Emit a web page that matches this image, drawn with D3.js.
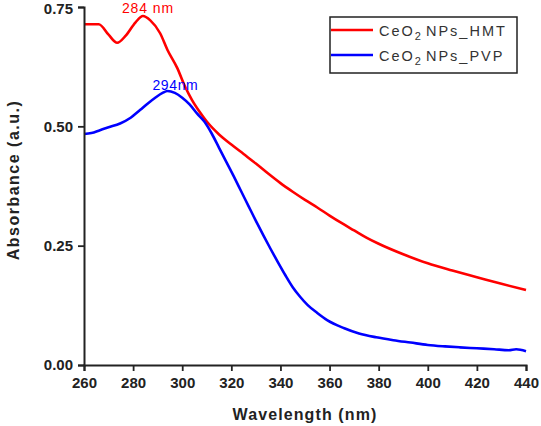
<!DOCTYPE html>
<html><head><meta charset="utf-8">
<script src="https://cdn.jsdelivr.net/npm/d3@7"></script>
<style>
body{margin:0;background:#fff;}
svg{display:block;}
text{font-family:Arial,"Liberation Sans",sans-serif;}
</style></head>
<body>
<svg id="c" width="541" height="426"></svg>
<script>
const hmtWavelength = [260,266,270,273.5,277,281,284,287,291,294,298,301,304,307,310,315,320,325,330,335,340,345,350,355,360,365,370,375,380,390,400,410,420,430,440];
const hmtAbsorbance = [0.714,0.714,0.692,0.675,0.690,0.718,0.731,0.722,0.695,0.660,0.622,0.585,0.555,0.531,0.510,0.483,0.462,0.442,0.422,0.401,0.381,0.363,0.346,0.330,0.313,0.297,0.282,0.267,0.254,0.232,0.213,0.198,0.184,0.170,0.157];
const pvpWavelength = [260,263,266.5,270,274.7,279,282.8,286,289,292,294,297,300,303,306,309,312,315,318,321,324,327,330,333,336,339,342,345,348,351,355,359,366,372,379,386,393,400,407,413,420,427,433,436,440];
const pvpAbsorbance = [0.484,0.486,0.492,0.498,0.506,0.518,0.534,0.548,0.560,0.570,0.574,0.570,0.560,0.546,0.527,0.510,0.485,0.455,0.425,0.395,0.364,0.333,0.302,0.272,0.243,0.215,0.188,0.163,0.143,0.126,0.109,0.094,0.077,0.066,0.058,0.052,0.047,0.042,0.039,0.037,0.035,0.033,0.031,0.033,0.029];
const xTicks = [260,280,300,320,340,360,380,400,420,440];
const yTicks = [0,0.25,0.5,0.75];
const seriesNames = ["HMT","PVP"];
const peakLabels = ["284 nm","294nm"];
const peakPos = [[284,0.731],[294,0.574]];

const svg = d3.select("#c");
const L=84, R=526, T=7, B=365;
const x = d3.scaleLinear().domain([260,440]).range([L,R]);
const y = d3.scaleLinear().domain([0,0.75]).range([B,T]);
const colors = ["#ff0000","#0000ff"];
const axisColor = "#222";

const line = d3.line().x(d=>x(d[0])).y(d=>y(d[1])).curve(d3.curveMonotoneX);
const series = [d3.zip(hmtWavelength,hmtAbsorbance), d3.zip(pvpWavelength,pvpAbsorbance)];
series.forEach((s,i)=>{
  svg.append("path").datum(s).attr("d",line).attr("fill","none")
    .attr("stroke",colors[i]).attr("stroke-width",2.6).attr("stroke-linejoin","round");
});

// axes
const xAxis = svg.append("g").attr("transform",`translate(0,${B})`)
  .call(d3.axisBottom(x).tickValues(xTicks).tickSize(6).tickPadding(6).tickFormat(d3.format("d")));
const yAxis = svg.append("g").attr("transform",`translate(${L},0)`)
  .call(d3.axisLeft(y).tickValues(yTicks).tickSize(6).tickPadding(5).tickFormat(d3.format(".2f")));
[xAxis,yAxis].forEach(g=>{
  g.select(".domain").attr("stroke",axisColor).attr("stroke-width",2);
  g.selectAll(".tick line").attr("stroke",axisColor).attr("stroke-width",1.8);
  g.selectAll(".tick text").attr("fill","#222").attr("font-size",15).attr("font-weight","bold")
    .attr("font-family","Arial, 'Liberation Sans', sans-serif");
});
xAxis.selectAll(".tick text").attr("dy","0.71em").attr("y",12);
yAxis.selectAll(".tick text").filter(d=>d===0.75).attr("dy","0.42em");

// axis titles
svg.append("text").attr("x",(L+R)/2).attr("y",420).attr("text-anchor","middle")
  .attr("font-size",16).attr("font-weight","bold").attr("fill","#222").attr("letter-spacing",1.1)
  .text("Wavelength (nm)");
svg.append("text").attr("transform",`translate(19,${180}) rotate(-90)`).attr("text-anchor","middle")
  .attr("font-size",16).attr("font-weight","bold").attr("fill","#222").attr("letter-spacing",1.5)
  .text("Absorbance (a.u.)");

// peak labels
svg.append("text").attr("x",x(peakPos[0][0])-21).attr("y",y(peakPos[0][1])-3)
  .attr("font-size",14).attr("fill",colors[0]).attr("letter-spacing",0.9).text(peakLabels[0]);
svg.append("text").attr("x",x(peakPos[1][0])-15).attr("y",y(peakPos[1][1])-1)
  .attr("font-size",14).attr("fill",colors[1]).attr("letter-spacing",0.6).text(peakLabels[1]);

// legend
const lg = svg.append("g");
lg.append("rect").attr("x",330).attr("y",17).attr("width",187).attr("height",56)
  .attr("fill","#fff").attr("stroke","#222").attr("stroke-width",1.5);
seriesNames.forEach((n,i)=>{
  const yy = 30 + i*25;
  lg.append("line").attr("x1",331).attr("x2",373).attr("y1",yy).attr("y2",yy)
    .attr("stroke",colors[i]).attr("stroke-width",2.6);
  const t = lg.append("text").attr("x",379).attr("y",yy+6).attr("font-size",14.5)
    .attr("fill","#333").attr("letter-spacing",2);
  t.append("tspan").text("CeO");
  t.append("tspan").attr("font-size",11).attr("dy",4).text("2");
  t.append("tspan").attr("dy",-4).attr("dx",3).text("NPs_"+n);
});
</script>
</body></html>
